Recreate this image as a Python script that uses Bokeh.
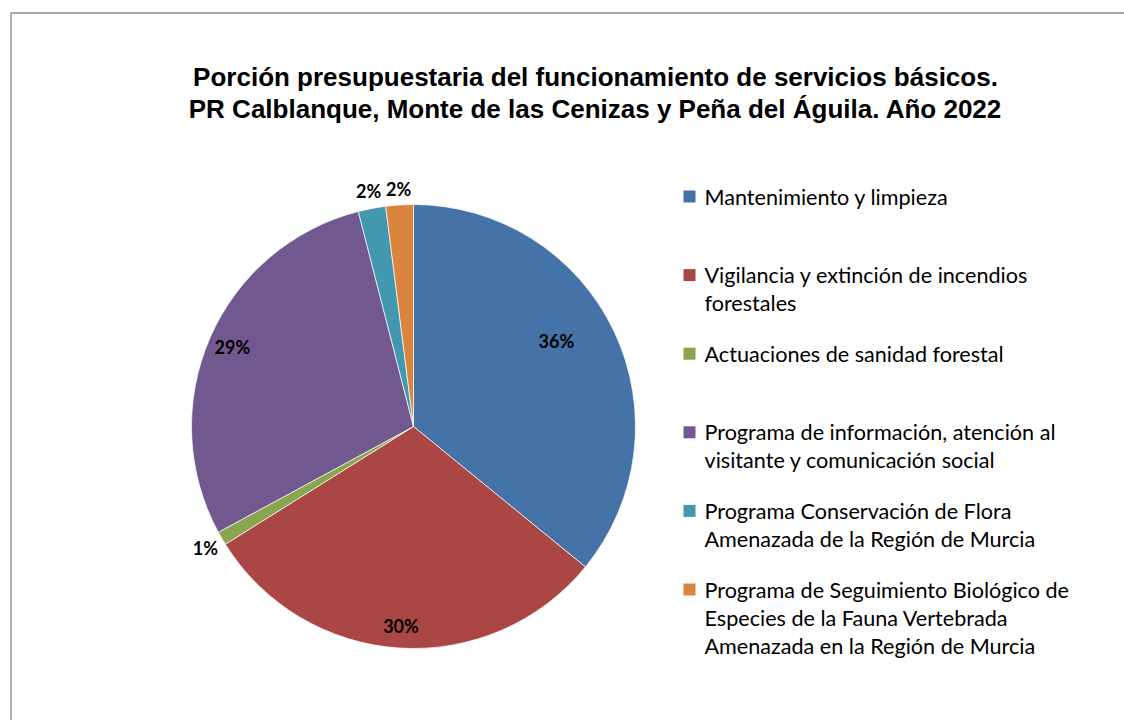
import math
from bokeh.plotting import figure
from bokeh.models import Range1d, ColumnDataSource
from bokeh.core.properties import value
from bokeh.embed import file_html
from bokeh.resources import INLINE

# ---- data ----
categories = [
    "Mantenimiento y limpieza",
    "Vigilancia y extinción de incendios\nforestales",
    "Actuaciones de sanidad forestal",
    "Programa de información, atención al\nvisitante y comunicación social",
    "Programa Conservación de Flora\nAmenazada de la Región de Murcia",
    "Programa de Seguimiento Biológico de\nEspecies de la Fauna Vertebrada\nAmenazada en la Región de Murcia",
]
shares = [35.9, 30.2, 1.0, 28.9, 2.0, 2.0]
colors = ["#4572A7", "#AA4643", "#89A54E", "#71588F", "#4198AF", "#DB843D"]
title_lines = [
    "Porción presupuestaria del funcionamiento de servicios básicos.",
    "PR Calblanque, Monte de las Cenizas y Peña del Águila. Año 2022",
]
# label placement (fraction of radius, angular nudge in degrees) - styling
label_rfac = [0.75, 0.90, 1.085, 0.89, 1.08, 1.07]
label_dang = [-5.5, 0, 0, 0, 0, 0]

W, H = 1124, 720


def X(px):
    return px


def Y(py):
    return H - py


p = figure(width=W, height=H, output_backend="svg", toolbar_location=None,
           x_range=Range1d(0, W), y_range=Range1d(0, H), min_border=0)
p.axis.visible = False
p.grid.visible = False
p.outline_line_color = None
p.background_fill_color = "white"
p.border_fill_color = "white"

# outer chart frame
p.quad(left=[X(10.5)], right=[X(1160)], top=[Y(12.5)], bottom=[Y(760)],
       fill_color=None, line_color="#8C8C8C", line_width=1.3)

# title
for i, t in enumerate(title_lines):
    p.text(x=[X(595)], y=[Y(76 + i * 32)], text=[t],
           text_font=value("Liberation Sans"), text_font_style="bold",
           text_font_size="26px", text_color="black",
           text_align="center", text_baseline="middle")

# pie
cx, cy, r = X(413), Y(426), 222
total = sum(shares)
starts, ends, mids = [], [], []
acc = 0.0
for s in shares:
    f0 = acc / total
    acc += s
    f1 = acc / total
    starts.append(math.pi / 2 - 2 * math.pi * f1)
    ends.append(math.pi / 2 - 2 * math.pi * f0)
    mids.append((f0 + f1) / 2)

src = ColumnDataSource(dict(start=starts, end=ends, color=colors))
p.wedge(x=cx, y=cy, radius=r, start_angle="start", end_angle="end",
        fill_color="color", line_color="white", line_width=0.7, source=src)

# percentage labels
lx, ly, lt = [], [], []
for s, m, k, da in zip(shares, mids, label_rfac, label_dang):
    th = 2 * math.pi * m + math.radians(da)
    lx.append(cx + k * r * math.sin(th))
    ly.append(cy + k * r * math.cos(th))
    lt.append(f"{round(s / total * 100)}%")
p.text(x=lx, y=ly, text=lt, text_font=value("Lato"), text_font_style="bold",
       text_font_size="18px", text_color="black",
       text_align="center", text_baseline="middle")

# legend
leg_x0, leg_y0, leg_step, line_h = 689, 196, 78.6, 28
sq_x, sq_y, tx, ty = [], [], [], []
ttext = []
for i, (c, lab) in enumerate(zip(colors, categories)):
    yy = leg_y0 + i * leg_step
    sq_x.append(X(leg_x0))
    sq_y.append(Y(yy))
    for j, line in enumerate(lab.split("\n")):
        tx.append(X(704))
        ty.append(Y(yy + j * line_h))
        ttext.append(line)
p.scatter(x=sq_x, y=sq_y, marker="square", size=12, fill_color=colors,
          line_color=None)
p.text(x=tx, y=ty, text=ttext, text_font=value("Lato"), text_font_size="21.6px",
       text_color="black", text_align="left", text_baseline="middle")

open("out.html", "w").write(file_html(p, INLINE))
